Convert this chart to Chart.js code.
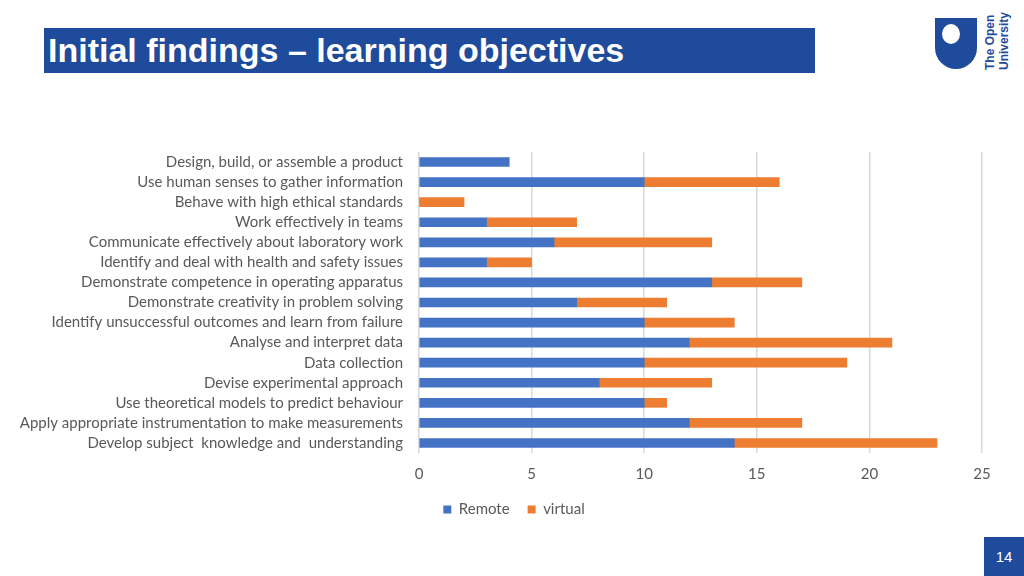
<!DOCTYPE html>
<html>
<head>
<meta charset="utf-8">
<script src="https://cdn.jsdelivr.net/npm/chart.js@4"></script>
<style>
  body { margin: 0; width: 1024px; height: 576px; background: #fff; overflow: hidden; position: relative; font-family: "Liberation Sans", Arial, sans-serif; }
  #chart { position: absolute; left: 0; top: 0; }
  .title-bar { position: absolute; left: 44px; top: 28px; width: 771px; height: 45px; background: #1f4b9c; }
  .title-bar span { position: absolute; left: 4px; top: 3px; color: #fff; font-weight: bold; font-size: 34px; white-space: nowrap; }
  .shield { position: absolute; left: 935px; top: 18px; width: 42px; height: 51px; background: #1f4b9c; border-radius: 0 0 21px 21px; }
  .shield .hole { position: absolute; left: 7px; top: 6px; width: 18px; height: 20px; background: #fff; border-radius: 50%; }
  .logo-text { position: absolute; left: 983px; top: 70px; transform: rotate(-90deg); transform-origin: 0 0; color: #1f4b9c; font-weight: bold; font-size: 12px; line-height: 14px; width: 56px; white-space: nowrap; }
  .page-no { position: absolute; left: 984px; top: 537px; width: 40px; height: 39px; background: #1f4b9c; color: #fff; font-size: 15px; text-align: center; line-height: 39px; }
</style>
</head>
<body>
<div class="title-bar"><span>Initial findings – learning objectives</span></div>
<div class="shield"><div class="hole"></div></div>
<div class="logo-text">The Open<br>University</div>
<div class="page-no">14</div>
<canvas id="chart" width="1024" height="576"></canvas>
<script>
// Learning objectives (top to bottom as shown)
const objectives = [
    'Design, build, or assemble a product',
    'Use human senses to gather information',
    'Behave with high ethical standards',
    'Work effectively in teams',
    'Communicate effectively about laboratory work',
    'Identify and deal with health and safety issues',
    'Demonstrate competence in operating apparatus',
    'Demonstrate creativity in problem solving',
    'Identify unsuccessful outcomes and learn from failure',
    'Analyse and interpret data',
    'Data collection',
    'Devise experimental approach',
    'Use theoretical models to predict behaviour',
    'Apply appropriate instrumentation to make measurements',
    'Develop subject  knowledge and  understanding'
];
const remoteCounts  = [4, 10, 0, 3, 6, 3, 13, 7, 10, 12, 10, 8, 10, 12, 14];
const virtualCounts = [0, 6, 2, 4, 7, 2, 4, 4, 4, 9, 9, 5, 1, 5, 9];
const xTicks = [0, 5, 10, 15, 20, 25];

const axisFont = { family: 'Lato, "Open Sans", sans-serif', size: 15 };
const textColor = '#595959';

// nudge the legend right so it sits under the middle of the slide like the original
const legendShift = {
    id: 'legendShift',
    afterLayout(chart) {
        chart.legend.left += 23;
        chart.legend.right += 23;
    }
};

new Chart(document.getElementById('chart'), {
    type: 'bar',
    data: {
        labels: objectives,
        datasets: [
            { label: 'Remote', data: remoteCounts, backgroundColor: '#4472c4', barThickness: 9 },
            { label: 'virtual', data: virtualCounts, backgroundColor: '#ed7d31', barThickness: 9 }
        ]
    },
    plugins: [legendShift],
    options: {
        indexAxis: 'y',
        responsive: false,
        animation: false,
        layout: { padding: { top: 152, right: 42, left: 0, bottom: 49 } },
        plugins: {
            tooltip: { enabled: false },
            legend: {
                position: 'bottom',
                labels: { boxWidth: 8, boxHeight: 8, padding: 18, color: textColor, font: axisFont }
            }
        },
        scales: {
            x: {
                stacked: true,
                min: xTicks[0],
                max: xTicks[xTicks.length - 1],
                afterBuildTicks: (scale) => { scale.ticks = xTicks.map(v => ({ value: v })); },
                afterFit: (scale) => { scale.height = 31; },
                grid: { color: '#d9d9d9', lineWidth: 1.5, drawTicks: false },
                border: { display: false },
                ticks: { color: textColor, font: axisFont, padding: 12 }
            },
            y: {
                stacked: true,
                afterFit: (scale) => { scale.width = 419; },
                grid: { display: false },
                border: { display: false },
                ticks: { color: textColor, font: axisFont, padding: 8, autoSkip: false }
            }
        }
    }
});
</script>
</body>
</html>
